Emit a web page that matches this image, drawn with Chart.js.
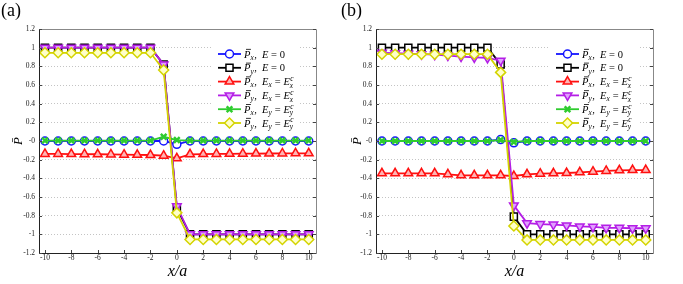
<!DOCTYPE html>
<html>
<head>
<meta charset="utf-8">
<script src="https://cdn.jsdelivr.net/npm/chart.js"></script>
<style>
  html, body { margin: 0; padding: 0; background: #fff; }
  #wrap { display: flex; width: 683px; height: 284px; }
  canvas { display: block; }
</style>
</head>
<body>
<div id="wrap">
  <canvas id="chartA" width="341" height="284"></canvas>
  <canvas id="chartB" width="342" height="284"></canvas>
</div>
<script>
// x positions and axis ticks
const xValues = [-10, -9, -8, -7, -6, -5, -4, -3, -2, -1, 0, 1, 2, 3, 4, 5, 6, 7, 8, 9, 10];
const xTicks = [-10, -8, -6, -4, -2, 0, 2, 4, 6, 8, 10];
const yTicks = [-1.2, -1, -0.8, -0.6, -0.4, -0.2, 0, 0.2, 0.4, 0.6, 0.8, 1, 1.2];
const yTickLabels = ['-1.2', '-1', '-0.8', '-0.6', '-0.4', '-0.2', '-0', '0.2', '0.4', '0.6', '0.8', '1', '1.2'];
const seriesNames = ['P̄x, E = 0', 'P̄y, E = 0', 'P̄x, Ex = Exc', 'P̄y, Ex = Exc', 'P̄x, Ey = Eyc', 'P̄y, Ey = Eyc'];

// panel (a)
const pxE0A  = [0, 0, 0, 0, 0, 0, 0, 0, 0, 0, -0.035, 0, 0, 0, 0, 0, 0, 0, 0, 0, 0];
const pyE0A  = [1, 1, 1, 1, 1, 1, 1, 1, 1, 0.82, -0.72, -1, -1, -1, -1, -1, -1, -1, -1, -1, -1];
const pxExA  = [-0.138, -0.139, -0.14, -0.141, -0.142, -0.144, -0.146, -0.148, -0.15, -0.157, -0.186, -0.143, -0.14, -0.138, -0.137, -0.136, -0.135, -0.134, -0.133, -0.132, -0.132];
const pyExA  = [1, 1, 1, 1, 1, 1, 1, 1, 1, 0.82, -0.7, -1, -1, -1, -1, -1, -1, -1, -1, -1, -1];
const pxEyA  = [0.005, 0.005, 0.005, 0.005, 0.005, 0.005, 0.005, 0.005, 0.005, 0.045, 0.01, 0.005, 0.005, 0.005, 0.005, 0.005, 0.005, 0.005, 0.005, 0.005, 0.005];
const pyEyA  = [0.945, 0.945, 0.945, 0.945, 0.945, 0.945, 0.945, 0.945, 0.945, 0.76, -0.77, -1.055, -1.055, -1.055, -1.055, -1.055, -1.055, -1.055, -1.055, -1.055, -1.055];

// panel (b)
const pxE0B  = [0, 0, 0, 0, 0, 0, 0, 0, 0, 0.015, -0.02, 0, 0, 0, 0, 0, 0, 0, 0, 0, 0];
const pyE0B  = [1, 1, 1, 1, 1, 1, 1, 1, 1, 0.82, -0.81, -1, -1, -1, -1, -1, -1, -1, -1, -1, -1];
const pxExB  = [-0.346, -0.346, -0.346, -0.346, -0.346, -0.357, -0.368, -0.368, -0.368, -0.368, -0.375, -0.357, -0.35, -0.346, -0.343, -0.336, -0.329, -0.321, -0.314, -0.311, -0.311];
const pyExB  = [0.945, 0.94, 0.935, 0.93, 0.925, 0.915, 0.905, 0.895, 0.89, 0.86, -0.69, -0.88, -0.89, -0.895, -0.905, -0.915, -0.92, -0.93, -0.93, -0.935, -0.935];
const pxEyB  = [0, 0, 0, 0, 0, 0, 0, 0, 0, 0.01, -0.01, 0, 0, 0, 0, 0, 0, 0, 0, 0, 0];
const pyEyB  = [0.93, 0.93, 0.93, 0.93, 0.93, 0.93, 0.93, 0.93, 0.93, 0.735, -0.91, -1.06, -1.06, -1.06, -1.06, -1.06, -1.06, -1.06, -1.06, -1.06, -1.06];

const serif = '"Liberation Serif", "Times New Roman", serif';

// marker / line looks, one per series
const looks = [
  { color: '#1414ff', bg: '#ffffff', style: 'circle', rot: 0, r: 4, bw: 1.5 },
  { color: '#000000', bg: '#ffffff', style: 'rect', rot: 0, r: 5, bw: 1.5 },
  { color: '#ff1010', bg: '#ffb4b4', style: 'triangle', rot: 0, r: 5, bw: 1.5 },
  { color: '#b41ee6', bg: '#e0a0ff', style: 'triangle', rot: 180, r: 5, bw: 1.5 },
  { color: '#2ecc2e', bg: '#2ecc2e', style: 'crossRot', rot: 0, r: 4, bw: 2.5 },
  { color: '#d4d400', bg: '#ffffc8', style: 'rectRot', rot: 0, r: 5, bw: 1.5 }
];

// legend text pieces: [text, kind]
const legendParts = [
  [['P', 'bar'], ['x', 'sub'], [',  ', 'r'], ['E', 'i'], [' = 0', 'r']],
  [['P', 'bar'], ['y', 'sub'], [',  ', 'r'], ['E', 'i'], [' = 0', 'r']],
  [['P', 'bar'], ['x', 'sub'], [',  ', 'r'], ['E', 'i'], ['x', 'sub'], [' = ', 'r'], ['E', 'i'], ['x', 'subsup']],
  [['P', 'bar'], ['y', 'sub'], [',  ', 'r'], ['E', 'i'], ['x', 'sub'], [' = ', 'r'], ['E', 'i'], ['x', 'subsup']],
  [['P', 'bar'], ['x', 'sub'], [',  ', 'r'], ['E', 'i'], ['y', 'sub'], [' = ', 'r'], ['E', 'i'], ['y', 'subsup']],
  [['P', 'bar'], ['y', 'sub'], [',  ', 'r'], ['E', 'i'], ['y', 'sub'], [' = ', 'r'], ['E', 'i'], ['y', 'subsup']]
];

function drawRich(ctx, parts, x, y, size) {
  const it = 'italic ' + size + 'px ' + serif;
  const rm = size + 'px ' + serif;
  const sm = 'italic ' + (size * 0.7) + 'px ' + serif;
  ctx.textAlign = 'left';
  ctx.textBaseline = 'alphabetic';
  ctx.fillStyle = '#000';
  for (const [t, k] of parts) {
    if (k === 'bar') {
      ctx.font = it;
      const w = ctx.measureText(t).width;
      ctx.fillText(t, x, y);
      ctx.fillRect(x + 2, y - size * 0.82, w - 1.5, 0.8);
      x += w;
    } else if (k === 'i' || k === 'r') {
      ctx.font = k === 'i' ? it : rm;
      ctx.fillText(t, x, y);
      x += ctx.measureText(t).width;
    } else if (k === 'sub') {
      ctx.font = sm;
      ctx.fillText(t, x, y + size * 0.22);
      x += ctx.measureText(t).width + 0.5;
    } else if (k === 'subsup') {
      ctx.font = sm;
      ctx.fillText(t, x, y + size * 0.25);
      ctx.fillText('c', x + 0.5, y - size * 0.4);
      x += Math.max(ctx.measureText(t).width, ctx.measureText('c').width) + 0.5;
    }
  }
}

// box, inner ticks, legend and panel letter
const decorPlugin = {
  id: 'decor',
  afterDraw(chart, args, opts) {
    const ctx = chart.ctx;
    const a = chart.chartArea;
    const xs = chart.scales.x, ys = chart.scales.y;
    ctx.save();
    // box
    ctx.lineWidth = 1;
    ctx.strokeStyle = '#888';
    ctx.beginPath();
    ctx.moveTo(a.left, a.top + 0.5); ctx.lineTo(a.right + 0.5, a.top + 0.5); ctx.lineTo(a.right + 0.5, a.bottom);
    ctx.stroke();
    ctx.strokeStyle = '#222';
    ctx.beginPath();
    ctx.moveTo(a.left + 0.5, a.top); ctx.lineTo(a.left + 0.5, a.bottom + 0.5); ctx.lineTo(a.right + 0.5, a.bottom + 0.5);
    ctx.stroke();
    // inward ticks
    ctx.strokeStyle = '#444';
    ctx.beginPath();
    xTicks.forEach(v => {
      const px = Math.round(xs.getPixelForValue(v)) + 0.5;
      ctx.moveTo(px, a.bottom); ctx.lineTo(px, a.bottom - 3);
    });
    yTicks.forEach(v => {
      const py = Math.round(ys.getPixelForValue(v)) + 0.5;
      ctx.moveTo(a.left, py); ctx.lineTo(a.left + 3, py);
      ctx.moveTo(a.right, py); ctx.lineTo(a.right - 3, py);
    });
    ctx.stroke();
    // legend
    ctx.fillStyle = '#fff';
    ctx.fillRect(opts.boxX, 45, opts.boxW, 84);
    chart.data.datasets.forEach((ds, i) => {
      const L = looks[i];
      const cy = 54 + i * 13.8;
      ctx.strokeStyle = L.color;
      ctx.lineWidth = 1.8;
      ctx.beginPath();
      ctx.moveTo(opts.lineX, cy); ctx.lineTo(opts.lineX + 23, cy);
      ctx.stroke();
      ctx.fillStyle = L.bg;
      ctx.lineWidth = L.bw;
      Chart.helpers.drawPoint(ctx, { pointStyle: L.style, rotation: L.rot, radius: L.r, borderWidth: L.bw }, opts.lineX + 11.5, cy);
      drawRich(ctx, legendParts[i], opts.lineX + 26, cy + 3.5, 10.5);
    });
    // panel letter
    ctx.fillStyle = '#000';
    ctx.font = '18px ' + serif;
    ctx.textAlign = 'left';
    ctx.textBaseline = 'alphabetic';
    ctx.fillText(opts.letter, opts.letterX, 16);
    ctx.restore();
  }
};

function makeChart(id, series, lay) {
  const datasets = series.map((vals, i) => ({
    label: seriesNames[i],
    data: vals.map((v, j) => ({ x: xValues[j], y: v })),
    borderColor: looks[i].color,
    backgroundColor: looks[i].bg,
    pointBackgroundColor: looks[i].bg,
    pointBorderColor: looks[i].color,
    pointStyle: looks[i].style,
    pointRotation: looks[i].rot,
    pointRadius: looks[i].r,
    pointBorderWidth: looks[i].bw,
    borderWidth: 1.8,
    tension: 0,
    order: series.length - i
  }));
  return new Chart(document.getElementById(id), {
    type: 'line',
    data: { datasets },
    plugins: [decorPlugin],
    options: {
      responsive: false,
      animation: false,
      devicePixelRatio: 1,
      layout: { padding: { top: 29, right: lay.right, left: 0, bottom: 0 } },
      plugins: {
        legend: { display: false },
        tooltip: { enabled: false },
        decor: lay.decor
      },
      scales: {
        x: {
          type: 'linear',
          min: -10.45,
          max: 10.55,
          afterBuildTicks: s => { s.ticks = xTicks.map(v => ({ value: v })); },
          afterFit: s => { s.height = 31; },
          grid: { drawOnChartArea: false, drawTicks: false },
          border: { display: false },
          ticks: { padding: 1, color: '#222', font: { family: serif, size: 7.5 }, maxRotation: 0 },
          title: {
            display: true, text: 'x/a', color: '#000',
            font: { family: serif, size: 16, style: 'italic', lineHeight: 1 },
            padding: { top: 0, bottom: 4 }
          }
        },
        y: {
          min: -1.2,
          max: 1.2,
          afterBuildTicks: s => { s.ticks = yTicks.map(v => ({ value: v })); },
          afterFit: s => { s.width = lay.left; },
          grid: { drawTicks: false, color: '#c4c4c4', lineWidth: 1 },
          border: { display: false, dash: [1, 2] },
          ticks: {
            padding: 4, color: '#222', font: { family: serif, size: 7.5 },
            callback: (v, idx) => yTickLabels[idx]
          },
          title: {
            display: true, text: 'P̄', color: '#000',
            font: { family: serif, size: 13, style: 'italic' },
            padding: { top: lay.titlePad, bottom: 0 }
          }
        }
      }
    }
  });
}

makeChart('chartA', [pxE0A, pyE0A, pxExA, pyExA, pxEyA, pyEyA], {
  left: 39, right: 25, titlePad: 11,
  decor: { letter: '(a)', letterX: 1, lineX: 218, boxX: 212, boxW: 88 }
});
makeChart('chartB', [pxE0B, pyE0B, pxExB, pyExB, pxEyB, pyEyB], {
  left: 35, right: 30, titlePad: 9,
  decor: { letter: '(b)', letterX: 0, lineX: 215, boxX: 209, boxW: 88 }
});
</script>
</body>
</html>
